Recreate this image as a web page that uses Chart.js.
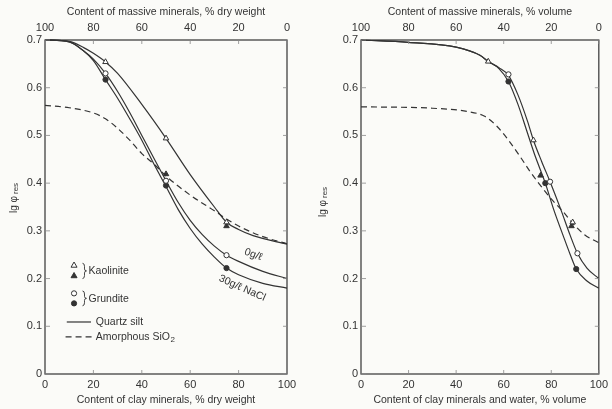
<!DOCTYPE html>
<html>
<head>
<meta charset="utf-8">
<script src="https://cdn.jsdelivr.net/npm/chart.js@4/dist/chart.umd.min.js"></script>
<style>
  html, body { margin: 0; padding: 0; background: #fbfbf8; }
  #wrap { position: relative; width: 612px; height: 409px; }
  canvas { position: absolute; top: 0; }
  #left { left: 0; }
  #right { left: 306px; }
</style>
</head>
<body>
<div id="wrap">
  <canvas id="left" width="306" height="409"></canvas>
  <canvas id="right" width="306" height="409"></canvas>
</div>
<script>
const INK = '#333';
const FONT = '"Liberation Sans", Arial, sans-serif';
const Y_TICK_LABELS = ['0', '0.1', '0.2', '0.3', '0.4', '0.5', '0.6', '0.7'];

// ── LEFT PANEL: clay minerals, % dry weight ──────────────────────────────────
const wtUpperX = [0, 10, 16, 20, 25, 30, 40, 50, 60, 70, 75, 80, 86, 100];
const wtUpperY = [0.70, 0.697, 0.684, 0.672, 0.654, 0.63, 0.565, 0.494, 0.418, 0.35, 0.318, 0.303, 0.29, 0.272];
const wtMidX = [0, 10, 16, 20, 25, 30, 35, 40, 45, 50, 55, 60, 65, 70, 75, 80, 90, 100];
const wtMidY = [0.70, 0.696, 0.677, 0.66, 0.63, 0.592, 0.548, 0.50, 0.452, 0.405, 0.36, 0.322, 0.292, 0.268, 0.249, 0.236, 0.215, 0.20];
const wtLowY = [0.70, 0.696, 0.677, 0.657, 0.617, 0.578, 0.535, 0.49, 0.44, 0.393, 0.345, 0.305, 0.272, 0.245, 0.222, 0.208, 0.19, 0.18];
const wtDashX = [0, 10, 20, 25, 30, 35, 40, 45, 50, 60, 70, 75, 80, 90, 100];
const wtDashY = [0.563, 0.558, 0.547, 0.535, 0.515, 0.49, 0.462, 0.44, 0.415, 0.375, 0.342, 0.325, 0.31, 0.288, 0.273];

const wtKaolOpenX = [25, 50, 75],   wtKaolOpenY = [0.654, 0.494, 0.318];
const wtKaolFillX = [50, 75],       wtKaolFillY = [0.419, 0.31];
const wtGrunOpenX = [25, 50, 75],   wtGrunOpenY = [0.63, 0.405, 0.249];
const wtGrunFillX = [25, 50, 75],   wtGrunFillY = [0.617, 0.395, 0.222];

// ── RIGHT PANEL: clay minerals and water, % volume ───────────────────────────
const volUpperX = [0, 20, 40, 50, 53.5, 58, 62, 66, 70, 72.5, 76, 79.5, 84, 88, 91, 95, 100];
const volUpperY = [0.70, 0.695, 0.685, 0.668, 0.655, 0.642, 0.626, 0.585, 0.53, 0.49, 0.445, 0.403, 0.345, 0.29, 0.253, 0.222, 0.20];
const volLowerX = [0, 20, 40, 50, 53.5, 58, 62, 66, 70, 73, 77.5, 81, 85, 88, 90.5, 95, 100];
const volLowerY = [0.70, 0.695, 0.685, 0.668, 0.655, 0.64, 0.613, 0.565, 0.505, 0.46, 0.40, 0.345, 0.29, 0.25, 0.22, 0.195, 0.18];
const volDashX = [0, 30, 45, 52, 57, 62, 67, 71, 75, 80, 85, 89, 94, 100];
const volDashY = [0.56, 0.557, 0.55, 0.54, 0.52, 0.49, 0.455, 0.425, 0.398, 0.367, 0.34, 0.316, 0.292, 0.275];

const volKaolOpenX = [53.5, 72.5, 89], volKaolOpenY = [0.655, 0.49, 0.318];
const volKaolFillX = [75.5, 88.5],     volKaolFillY = [0.416, 0.31];
const volGrunOpenX = [62, 79.5, 91],   volGrunOpenY = [0.628, 0.403, 0.253];
const volGrunFillX = [62, 77.5, 90.5], volGrunFillY = [0.613, 0.40, 0.22];

// ── HELPERS ──────────────────────────────────────────────────────────────────

function pts(xs, ys) { return xs.map((x, i) => ({ x, y: ys[i] })); }

function curve(xs, ys, dashed) {
  return {
    data: pts(xs, ys), borderColor: INK, borderWidth: 1.2, pointRadius: 0,
    borderDash: dashed ? [6, 4] : [], cubicInterpolationMode: 'monotone',
    fill: false, order: 2, clip: 3
  };
}

function marks(xs, ys, style, filled) {
  return {
    data: pts(xs, ys), showLine: false, pointStyle: style,
    pointRadius: style === 'triangle' ? 3.2 : 2.6, borderWidth: 1,
    pointBorderColor: INK, pointBackgroundColor: filled ? INK : '#fff', order: 0
  };
}

function drawMarker(ctx, style, filled, x, y) {
  ctx.beginPath();
  if (style === 'triangle') {
    ctx.moveTo(x, y - 3.2); ctx.lineTo(x + 3, y + 2); ctx.lineTo(x - 3, y + 2); ctx.closePath();
  } else {
    ctx.arc(x, y, 2.6, 0, Math.PI * 2);
  }
  ctx.fillStyle = filled ? INK : '#fff';
  ctx.fill();
  ctx.strokeStyle = INK; ctx.lineWidth = 1; ctx.stroke();
}

// frame, inward ticks, rotated y title, and the extra labels of each panel
const framePlugin = {
  id: 'frame',
  afterDraw(chart, args, opts) {
    const { ctx, chartArea: a, scales } = chart;
    ctx.save();
    ctx.strokeStyle = INK; ctx.lineWidth = 1.2;
    ctx.strokeRect(a.left, a.top, a.right - a.left, a.bottom - a.top);

    ctx.lineWidth = 0.8; ctx.strokeStyle = '#888';
    scales.y.ticks.forEach(t => {
      const py = scales.y.getPixelForValue(t.value);
      ctx.beginPath(); ctx.moveTo(a.left, py); ctx.lineTo(a.left + 5, py); ctx.stroke();
      ctx.beginPath(); ctx.moveTo(a.right, py); ctx.lineTo(a.right - 4, py); ctx.stroke();
    });
    scales.x.ticks.forEach(t => {
      const px = scales.x.getPixelForValue(t.value);
      ctx.beginPath(); ctx.moveTo(px, a.bottom); ctx.lineTo(px, a.bottom - 4); ctx.stroke();
      ctx.beginPath(); ctx.moveTo(px, a.top); ctx.lineTo(px, a.top + 4); ctx.stroke();
    });

    // y axis title: lg φ res
    ctx.translate(opts.titleX, opts.titleY);
    ctx.rotate(-Math.PI / 2);
    ctx.fillStyle = INK; ctx.textBaseline = 'middle'; ctx.textAlign = 'left';
    ctx.font = '10px ' + FONT;
    const w1 = ctx.measureText('lg φ').width;
    ctx.font = '8px ' + FONT;
    const w2 = ctx.measureText('res').width;
    const x0 = -(w1 + 2 + w2) / 2;
    ctx.font = '10px ' + FONT;
    ctx.fillText('lg φ', x0, 0);
    ctx.font = '8px ' + FONT;
    ctx.fillText('res', x0 + w1 + 2, 2);
    ctx.restore();

    if (opts.legend) drawLegend(chart);
  }
};

function drawLegend(chart) {
  const { ctx, scales } = chart;
  const X = v => scales.x.getPixelForValue(v);
  const Y = v => scales.y.getPixelForValue(v);
  ctx.save();
  ctx.fillStyle = INK; ctx.strokeStyle = INK;
  ctx.font = '10.5px ' + FONT; ctx.textBaseline = 'middle'; ctx.textAlign = 'left';

  const mx = X(12);
  drawMarker(ctx, 'triangle', false, mx, Y(0.228));
  drawMarker(ctx, 'triangle', true, mx, Y(0.206));
  drawMarker(ctx, 'circle', false, mx, Y(0.169));
  drawMarker(ctx, 'circle', true, mx, Y(0.148));

  // braces
  ctx.lineWidth = 0.9;
  [[0.232, 0.200], [0.174, 0.143]].forEach(([t, b]) => {
    const bx = X(15.5), yt = Y(t), yb = Y(b), ym = (yt + yb) / 2;
    ctx.beginPath();
    ctx.moveTo(bx, yt); ctx.quadraticCurveTo(bx + 2, yt, bx + 2, yt + 3);
    ctx.lineTo(bx + 2, ym - 2); ctx.quadraticCurveTo(bx + 2, ym, bx + 4, ym);
    ctx.quadraticCurveTo(bx + 2, ym, bx + 2, ym + 2);
    ctx.lineTo(bx + 2, yb - 3); ctx.quadraticCurveTo(bx + 2, yb, bx, yb);
    ctx.stroke();
  });
  ctx.fillText('Kaolinite', X(18), Y(0.216));
  ctx.fillText('Grundite', X(18), Y(0.157));

  ctx.lineWidth = 1.2;
  ctx.beginPath(); ctx.moveTo(X(9), Y(0.109)); ctx.lineTo(X(19), Y(0.109)); ctx.stroke();
  ctx.setLineDash([6, 4]);
  ctx.beginPath(); ctx.moveTo(X(8.5), Y(0.078)); ctx.lineTo(X(19.5), Y(0.078)); ctx.stroke();
  ctx.setLineDash([]);
  ctx.fillText('Quartz silt', X(21), Y(0.109));
  ctx.fillText('Amorphous SiO', X(21), Y(0.078));
  const wAm = ctx.measureText('Amorphous SiO').width;
  ctx.font = '8px ' + FONT;
  ctx.fillText('2', X(21) + wAm + 0.5, Y(0.078) + 3);

  // curve labels
  ctx.font = '10.5px ' + FONT;
  ctx.textAlign = 'center';
  ctx.save();
  ctx.translate(X(86), Y(0.25)); ctx.rotate(0.35);
  ctx.fillText('0g/ℓ', 0, 0);
  ctx.restore();
  ctx.save();
  ctx.translate(X(81.5), Y(0.18)); ctx.rotate(0.42);
  ctx.fillText('30g/ℓ NaCl', 0, 0);
  ctx.restore();
  ctx.restore();
}

function buildChart(id, cfg) {
  const tickFont = { family: FONT, size: 11 };
  const titleFont = { family: FONT, size: 10.5 };
  return new Chart(document.getElementById(id), {
    type: 'line',
    data: { datasets: cfg.datasets },
    options: {
      responsive: false,
      animation: false,
      layout: { padding: { left: 0, right: cfg.padRight, top: 0, bottom: 0 } },
      plugins: { legend: { display: false }, tooltip: { enabled: false }, frame: cfg.frame },
      scales: {
        x: {
          type: 'linear', position: 'bottom', min: 0, max: 100,
          ticks: { stepSize: 20, color: INK, font: tickFont, padding: 4, maxRotation: 0 },
          grid: { display: false, drawTicks: false },
          border: { display: false },
          title: { display: true, text: cfg.bottomTitle, color: INK, font: titleFont, padding: { top: 0, bottom: 3 } },
          afterFit: s => { s.height = 35; }
        },
        xTop: {
          type: 'linear', position: 'top', min: 0, max: 100, reverse: true,
          ticks: { stepSize: 20, color: INK, font: tickFont, padding: 5, maxRotation: 0 },
          grid: { display: false, drawTicks: false },
          border: { display: false },
          title: { display: true, text: cfg.topTitle, color: INK, font: titleFont, padding: { top: 6, bottom: 0 } },
          afterFit: s => { s.height = 40; }
        },
        y: {
          min: 0, max: 0.7,
          ticks: { stepSize: 0.1, color: INK, font: tickFont, padding: 3,
                   callback: (v, i) => Y_TICK_LABELS[i] },
          grid: { display: false, drawTicks: false },
          border: { display: false },
          afterFit: s => { s.width = cfg.yWidth; }
        }
      }
    },
    plugins: [framePlugin]
  });
}

// ── INIT ─────────────────────────────────────────────────────────────────────
buildChart('left', {
  padRight: 19, yWidth: 45,
  topTitle: 'Content of massive minerals, % dry weight',
  bottomTitle: 'Content of clay minerals, % dry weight',
  frame: { titleX: 14, titleY: 198, legend: true },
  datasets: [
    curve(wtUpperX, wtUpperY),
    curve(wtMidX, wtMidY),
    curve(wtMidX, wtLowY),
    curve(wtDashX, wtDashY, true),
    marks(wtKaolOpenX, wtKaolOpenY, 'triangle', false),
    marks(wtKaolFillX, wtKaolFillY, 'triangle', true),
    marks(wtGrunOpenX, wtGrunOpenY, 'circle', false),
    marks(wtGrunFillX, wtGrunFillY, 'circle', true)
  ]
});

buildChart('right', {
  padRight: 7, yWidth: 55,
  topTitle: 'Content of massive minerals, % volume',
  bottomTitle: 'Content of clay minerals and water, % volume',
  frame: { titleX: 17, titleY: 202, legend: false },
  datasets: [
    curve(volUpperX, volUpperY),
    curve(volLowerX, volLowerY),
    curve(volDashX, volDashY, true),
    marks(volKaolOpenX, volKaolOpenY, 'triangle', false),
    marks(volKaolFillX, volKaolFillY, 'triangle', true),
    marks(volGrunOpenX, volGrunOpenY, 'circle', false),
    marks(volGrunFillX, volGrunFillY, 'circle', true)
  ]
});
</script>
</body>
</html>
